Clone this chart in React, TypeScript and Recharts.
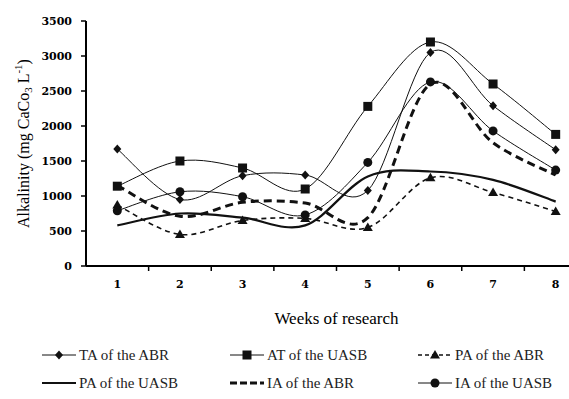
import { LineChart, Line, XAxis, YAxis, Legend, Label } from "recharts";

const weeks = ["1", "2", "3", "4", "5", "6", "7", "8"];
const taABR = [1670, 950, 1290, 1300, 1080, 3050, 2290, 1660];
const atUASB = [1140, 1500, 1400, 1100, 2280, 3200, 2600, 1880];
const paABR = [870, 450, 650, 680, 550, 1260, 1050, 780];
const paUASB = [580, 750, 690, 580, 1280, 1350, 1230, 920];
const iaABR = [1150, 710, 910, 900, 690, 2600, 1760, 1300];
const iaUASB = [790, 1060, 990, 730, 1480, 2630, 1930, 1370];
const yTicks = [0, 500, 1000, 1500, 2000, 2500, 3000, 3500];

const data = weeks.map((w, i) => ({
  week: w,
  taABR: taABR[i],
  atUASB: atUASB[i],
  paABR: paABR[i],
  paUASB: paUASB[i],
  iaABR: iaABR[i],
  iaUASB: iaUASB[i],
}));

const INK = "#111";
const TICK_FONT = { fontFamily: "DejaVu Serif", fontWeight: 700, fontSize: 11, fill: "#000" };
const SERIF = "Liberation Serif";

// Excel-style smoothing (Catmull-Rom through every point)
function excelSmooth(context: any) {
  let pts: number[][] = [];
  return {
    areaStart() {},
    areaEnd() {},
    lineStart() {
      pts = [];
    },
    point(x: number, y: number) {
      pts.push([x, y]);
    },
    lineEnd() {
      if (!pts.length) return;
      context.moveTo(pts[0][0], pts[0][1]);
      for (let i = 0; i < pts.length - 1; i++) {
        const p0 = pts[Math.max(i - 1, 0)];
        const p1 = pts[i];
        const p2 = pts[i + 1];
        const p3 = pts[Math.min(i + 2, pts.length - 1)];
        context.bezierCurveTo(
          p1[0] + (p2[0] - p0[0]) / 6,
          p1[1] + (p2[1] - p0[1]) / 6,
          p2[0] - (p3[0] - p1[0]) / 6,
          p2[1] - (p3[1] - p1[1]) / 6,
          p2[0],
          p2[1]
        );
      }
    },
  };
}

type Shape = "diamond" | "square" | "triangle" | "circle" | "none";

function marker(shape: Shape, cx: number, cy: number, key?: string) {
  switch (shape) {
    case "diamond":
      return <path key={key} d={`M${cx},${cy - 4.5}L${cx + 4},${cy}L${cx},${cy + 4.5}L${cx - 4},${cy}Z`} fill={INK} />;
    case "square":
      return <rect key={key} x={cx - 4.5} y={cy - 4.5} width={9} height={9} fill={INK} />;
    case "triangle":
      return <path key={key} d={`M${cx},${cy - 5}L${cx + 5},${cy + 3.5}L${cx - 5},${cy + 3.5}Z`} fill={INK} />;
    case "circle":
      return <circle key={key} cx={cx} cy={cy} r={4.5} fill={INK} />;
    default:
      return <g key={key} />;
  }
}

const dotFor = (shape: Shape) => (props: any) =>
  marker(shape, props.cx, props.cy, `${shape}-${props.index}`);

const series = [
  { key: "taABR", name: "TA of the ABR", shape: "diamond" as Shape, width: 1, dash: undefined },
  { key: "atUASB", name: "AT of the UASB", shape: "square" as Shape, width: 1, dash: undefined },
  { key: "paABR", name: "PA of the ABR", shape: "triangle" as Shape, width: 1.6, dash: "5 4" },
  { key: "paUASB", name: "PA of the UASB", shape: "none" as Shape, width: 2.2, dash: undefined },
  { key: "iaABR", name: "IA of the ABR", shape: "none" as Shape, width: 3, dash: "8 5" },
  { key: "iaUASB", name: "IA of the UASB", shape: "circle" as Shape, width: 1, dash: undefined },
];

function WeekTick(props: any) {
  const { x, y, payload, width } = props;
  const half = width / weeks.length / 2;
  const axisY = y - 14;
  return (
    <g>
      <line x1={x + half} x2={x + half} y1={axisY} y2={axisY + 5} stroke="#000" strokeWidth={1.5} />
      <text x={x} y={y} dy="0.71em" textAnchor="middle" {...TICK_FONT}>
        {payload.value}
      </text>
    </g>
  );
}

function LegendBox() {
  return (
    <div
      style={{
        display: "grid",
        gridTemplateColumns: "repeat(3, 188px)",
        rowGap: 8,
        paddingLeft: 42,
        fontFamily: SERIF,
        fontSize: 15,
        color: "#222",
      }}
    >
      {series.map((s) => (
        <div key={s.key} style={{ display: "flex", alignItems: "center", height: 20 }}>
          <svg width={36} height={12} style={{ display: "block" }}>
            <line
              x1={0}
              x2={34}
              y1={6}
              y2={6}
              stroke={INK}
              strokeWidth={s.width}
              strokeDasharray={s.dash ? (s.key === "iaABR" ? "7 3" : "4 3") : undefined}
            />
            {marker(s.shape, 17, 6)}
          </svg>
          <span style={{ marginLeft: 1, whiteSpace: "nowrap" }}>{s.name}</span>
        </div>
      ))}
    </div>
  );
}

export default function App() {
  return (
    <div style={{ position: "absolute", left: 0, top: 0, width: 569, height: 399, overflow: "hidden", background: "#fff" }}>
      <LineChart width={590} height={399} data={data} margin={{ top: 21, right: 3, left: 0, bottom: 93 }}>
        <XAxis
          dataKey="week"
          scale="band"
          height={40}
          tickSize={5}
          tickMargin={9}
          tickLine={false}
          axisLine={{ stroke: "#000", strokeWidth: 2 }}
          tick={<WeekTick />}
          interval={0}
        >
          <Label
            content={(p: any) => (
              <text
                x={p.viewBox.x + p.viewBox.width / 2}
                y={p.viewBox.y + 58}
                textAnchor="middle"
                fontFamily={SERIF}
                fontSize={17}
                fill="#000"
              >
                Weeks of research
              </text>
            )}
          />
        </XAxis>
        <YAxis
          width={86}
          domain={[0, 3500]}
          ticks={yTicks}
          interval={0}
          tickSize={5}
          tickMargin={9}
          tickLine={{ stroke: "#000", strokeWidth: 1.5 }}
          axisLine={{ stroke: "#000", strokeWidth: 2 }}
          tick={TICK_FONT}
        >
          <Label
            content={(p: any) => {
              const cx = 25;
              const cy = p.viewBox.y + p.viewBox.height / 2;
              return (
                <text
                  x={cx}
                  y={cy}
                  transform={`rotate(-90, ${cx}, ${cy})`}
                  textAnchor="middle"
                  dominantBaseline="middle"
                  fontFamily={SERIF}
                  fontSize={16}
                  fill="#000"
                >
                  Alkalinity (mg CaCo
                  <tspan fontSize={11} dy={4}>3</tspan>
                  <tspan dy={-4}> L</tspan>
                  <tspan fontSize={11} dy={-6}>-1</tspan>
                  <tspan dy={6}>)</tspan>
                </text>
              );
            }}
          />
        </YAxis>
        <Legend
          layout="horizontal"
          verticalAlign="middle"
          align="center"
          wrapperStyle={{ top: 345, left: 0, width: 569 }}
          content={() => <LegendBox />}
        />
        {series.map((s) => (
          <Line
            key={s.key}
            dataKey={s.key}
            name={s.name}
            type={excelSmooth as any}
            stroke={INK}
            strokeWidth={s.width}
            strokeDasharray={s.dash}
            dot={s.shape === "none" ? false : dotFor(s.shape)}
            activeDot={false}
            isAnimationActive={false}
          />
        ))}
      </LineChart>
    </div>
  );
}
